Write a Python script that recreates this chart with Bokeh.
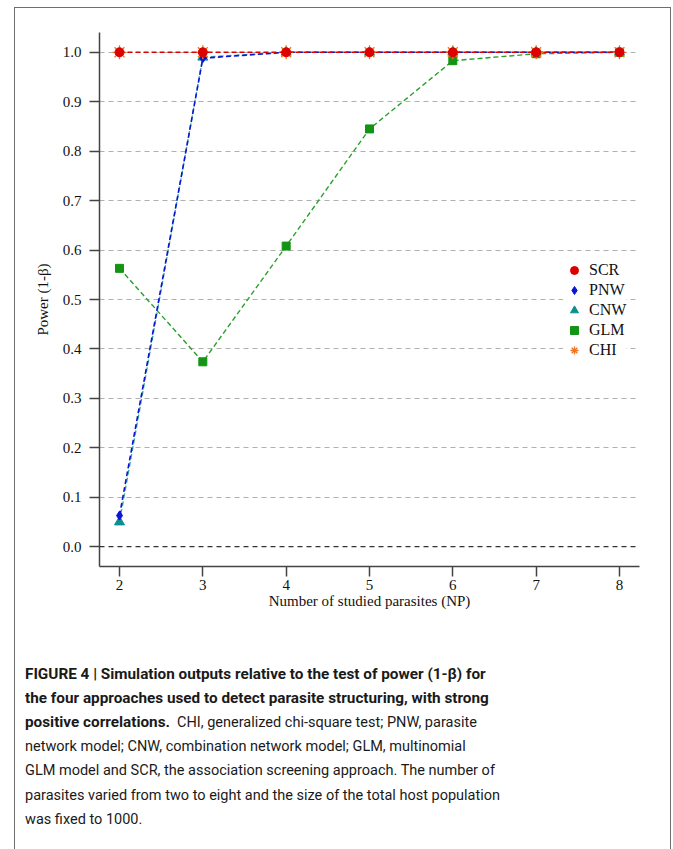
from bokeh.plotting import figure
from bokeh.layouts import column
from bokeh.models import (FixedTicker, PrintfTickFormatter, Span, Legend, LegendItem, Range1d)
from bokeh.core.properties import value
from bokeh.embed import file_html
from bokeh.resources import INLINE

# ---------------- data ----------------
np_parasites = [2, 3, 4, 5, 6, 7, 8]
scr = [1.0, 1.0, 1.0, 1.0, 1.0, 1.0, 1.0]
pnw = [0.063, 0.988, 1.0, 1.0, 1.0, 1.0, 1.0]
cnw = [0.050, 0.990, 1.0, 1.0, 1.0, 1.0, 1.0]
glm = [0.563, 0.374, 0.608, 0.845, 0.983, 0.997, 1.0]
chi = [1.0, 1.0, 1.0, 1.0, 1.0, 1.0, 1.0]
y_ticks = [0.0, 0.1, 0.2, 0.3, 0.4, 0.5, 0.6, 0.7, 0.8, 0.9, 1.0]
x_ticks = [2, 3, 4, 5, 6, 7, 8]

caption_bold = [
    "FIGURE 4 | Simulation outputs relative to the test of power (1-\u03b2) for",
    "the four approaches used to detect parasite structuring, with strong",
    "positive correlations.",
]
caption_normal = [
    "CHI, generalized chi-square test; PNW, parasite",
    "network model; CNW, combination network model; GLM, multinomial",
    "GLM model and SCR, the association screening approach. The number of",
    "parasites varied from two to eight and the size of the total host population",
    "was fixed to 1000.",
]

SERIF = "Liberation Serif"
SANS = "Roboto"

# geometry (page pixels)
OX, OY, BW = 14, 7, 1.5
IX, IY = OX + BW, OY + BW
W = 655
H1 = 611
H2 = 849 - int(IY) - H1 + 1
FL, FT, FR, FB = 100, 33, 640, 567


def no_align(fig):
    try:
        fig.frame_align = False
    except Exception:
        pass


p = figure(width=W, height=H1, output_backend="svg", toolbar_location=None,
           x_range=Range1d(1.76, 8.24), y_range=Range1d(-0.04, 1.04),
           min_border_left=round(FL - IX), min_border_right=W - round(FL - IX) - (FR - FL),
           min_border_top=round(FT - IY), min_border_bottom=H1 - round(FT - IY) - (FB - FT),
           outline_line_color=None, background_fill_alpha=0, border_fill_alpha=0)
no_align(p)

for ax in (p.xaxis[0], p.yaxis[0]):
    ax.axis_line_color = "#444444"
    ax.axis_line_width = 1.5
    ax.major_tick_line_color = "#444444"
    ax.major_tick_line_width = 1.5
    ax.major_tick_out = 10
    ax.major_tick_in = 0
    ax.minor_tick_line_color = None
    ax.major_label_text_font = SERIF
    ax.major_label_text_font_size = "15px"
    ax.major_label_text_color = "#111111"
    ax.axis_label_text_font = SERIF
    ax.axis_label_text_font_size = "15px"
    ax.axis_label_text_font_style = "normal"
    ax.axis_label_text_color = "#111111"

p.xaxis.ticker = FixedTicker(ticks=x_ticks)
p.yaxis.ticker = FixedTicker(ticks=y_ticks)
p.yaxis.formatter = PrintfTickFormatter(format="%.1f")
p.xaxis.axis_label = "Number of studied parasites (NP)"
p.yaxis.axis_label = "Power (1-\u03b2)"
p.xaxis.major_label_standoff = 3
p.yaxis.major_label_standoff = 8
p.xaxis.axis_label_standoff = 0
p.yaxis.axis_label_standoff = 9

p.xgrid.grid_line_color = None
p.ygrid.ticker = FixedTicker(ticks=y_ticks[1:])
p.ygrid.grid_line_color = "#b0b0b0"
p.ygrid.grid_line_dash = "5 4"
p.ygrid.grid_line_width = 1.2
p.add_layout(Span(location=y_ticks[0], dimension="width", line_color="#333333",
                  line_dash="5 4", line_width=1.3))

DASH = "5 3"
c_glm, c_cnw, c_pnw, c_chi, c_scr = "#149414", "#0e8e8e", "#0a14d2", "#ee7621", "#dd0000"

p.line(np_parasites, glm, line_color="#2aa02a", line_dash=DASH, line_width=1.4)
r_glm = p.scatter(np_parasites, glm, marker="square", size=8, fill_color=c_glm, line_color=c_glm)
p.line(np_parasites, cnw, line_color="#3aa8a8", line_dash=DASH, line_width=1.4)
r_cnw = p.scatter(np_parasites, cnw, marker="triangle", size=10, fill_color=c_cnw, line_color=c_cnw)
p.line(np_parasites, pnw, line_color=c_pnw, line_dash=DASH, line_width=1.6)
r_pnw = p.scatter(np_parasites, pnw, marker="diamond", size=9, fill_color=c_pnw, line_color=c_pnw)
r_chi = p.scatter(np_parasites, chi, marker="asterisk", size=14, line_color=c_chi, line_width=1.3)
p.line(np_parasites, scr, line_color=c_scr, line_dash=DASH, line_width=1.4)
r_scr = p.scatter(np_parasites, scr, marker="circle", size=9, fill_color=c_scr, line_color=c_scr)

legend = Legend(items=[LegendItem(label="SCR", renderers=[r_scr]),
                       LegendItem(label="PNW", renderers=[r_pnw]),
                       LegendItem(label="CNW", renderers=[r_cnw]),
                       LegendItem(label="GLM", renderers=[r_glm]),
                       LegendItem(label="CHI", renderers=[r_chi])],
                location=(464, 206), orientation="vertical",
                background_fill_color="white", background_fill_alpha=1.0,
                border_line_color=None, padding=8, spacing=0, margin=0,
                glyph_width=22, glyph_height=20, label_height=20, label_standoff=4,
                label_text_font=SERIF, label_text_font_size="16px",
                label_text_color="#111111")
p.add_layout(legend, "center")

# ---------------- caption figure (pixel coordinates, y downward) ----------------
c = figure(width=W, height=H2, output_backend="svg", toolbar_location=None,
           frame_width=W, frame_height=H2,
           x_range=Range1d(0, W), y_range=Range1d(H2, 0),
           x_axis_type=None, y_axis_type=None,
           min_border_left=0, min_border_right=0, min_border_top=0, min_border_bottom=0,
           outline_line_color=None, background_fill_alpha=0, border_fill_alpha=0)
no_align(c)
c.xgrid.grid_line_color = None
c.ygrid.grid_line_color = None

top2 = IY + H1
x0 = 25 - IX
base0 = 674 - top2
dy = 24.2
x_split = 177 - IX
bx = [x0, x0, x0]
by = [base0 + i * dy for i in range(3)]
nx = [x_split] + [x0] * 4
ny = [base0 + (i + 2) * dy for i in range(5)]
c.text(x=bx, y=by, text=caption_bold, text_font=value(SANS), text_font_size="15.3px",
       text_font_style="bold", text_color="#1a1a1a", text_baseline="alphabetic")
c.text(x=nx, y=ny, text=caption_normal, text_font=value(SANS), text_font_size="14.5px",
       text_font_style="normal", text_color="#1a1a1a", text_baseline="alphabetic")

layout = column(p, c, spacing=0,
                styles={"margin-left": f"{OX}px", "margin-top": f"{OY}px",
                        "border-left": f"{BW}px solid #6e6e6e",
                        "border-top": f"{BW}px solid #6e6e6e",
                        "border-right": f"{BW}px solid #6e6e6e"})

open("out.html", "w").write(file_html(layout, INLINE))
